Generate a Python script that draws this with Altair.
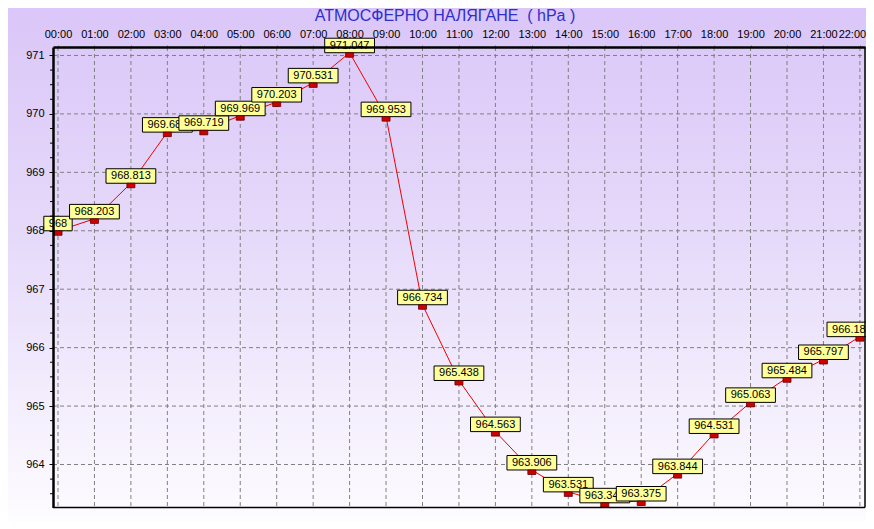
import altair as alt
import pandas as pd

# ---- data ----
hours = list(range(23))
pressure = [968.0, 968.203, 968.813, 969.688, 969.719, 969.969, 970.203, 970.531,
            971.047, 969.953, 966.734, 965.438, 964.563, 963.906, 963.531, 963.344,
            963.375, 963.844, 964.531, 965.063, 965.484, 965.797, 966.188]
y_major = [964, 965, 966, 967, 968, 969, 970, 971]
title_text = "АТМОСФЕРНО НАЛЯГАНЕ \u00a0( hPa )"

labels = [f"{v:.3f}".rstrip("0").rstrip(".") for v in pressure]
y_minor = [963.5 + 0.25 * k for k in range(31) if (963.5 + 0.25 * k) % 1 != 0]

X_DOMAIN = [-0.137, 22.14]
Y_DOMAIN = [963.264, 971.145]
W, H = 812, 460.5
PAD = {"left": 45, "top": 39, "right": 1, "bottom": 13.5}
FONT = "Liberation Sans"

df = pd.DataFrame({"hour": hours, "p": pressure, "label": labels, "i": list(range(len(hours)))})
one = pd.DataFrame({"a": [0]})

X = alt.X("hour:Q",
          scale=alt.Scale(domain=X_DOMAIN, nice=False, zero=False),
          axis=alt.Axis(orient="top", values=hours, title=None, grid=False,
                        labelExpr="(datum.value < 10 ? '0' : '') + datum.value + ':00'",
                        labelAngle=0, labelFont=FONT, labelFontSize=11, labelColor="black",
                        labelOffset={"condition": {"test": "datum.value == 22", "value": -8}, "value": 0},
                        labelPadding=4, tickSize=4, tickColor="#808080", tickDash=[2, 2],
                        domainColor="black", domainWidth=2.5, zindex=1))
Y = alt.Y("p:Q",
          scale=alt.Scale(domain=Y_DOMAIN, nice=False, zero=False),
          axis=alt.Axis(orient="left", values=y_major, format="d", title=None, grid=False,
                        labelFont=FONT, labelFontSize=11, labelColor="black",
                        labelPadding=5, tickSize=4, tickColor="black",
                        domainColor="black", domainWidth=2.5, zindex=1))

bg = alt.Chart(one).mark_rect(
    fill=alt.LinearGradient(gradient="linear", x1=0, y1=0, x2=0, y2=1,
                            stops=[alt.GradientStop(color="#DAC6F8", offset=0),
                                   alt.GradientStop(color="#E6DAFA", offset=0.45),
                                   alt.GradientStop(color="#FDFCFF", offset=1)])
).encode(x=alt.value(-PAD["left"]), x2=alt.value(W + PAD["right"]),
         y=alt.value(-PAD["top"]), y2=alt.value(H + PAD["bottom"]))

vgrid = alt.Chart(pd.DataFrame({"hour": hours})).mark_rule(
    color="#808080", strokeDash=[4, 3], strokeWidth=1
).encode(x=X, y=alt.value(0), y2=alt.value(H))

hgrid = alt.Chart(pd.DataFrame({"p": y_major})).mark_rule(
    color="#808080", strokeDash=[4, 3], strokeWidth=1
).encode(y=Y, x=alt.value(0), x2=alt.value(W))

minor = alt.Chart(pd.DataFrame({"p": y_minor})).mark_rule(color="black", strokeWidth=1).encode(
    y=Y, x=alt.value(-3), x2=alt.value(0))

frame_r = alt.Chart(one).mark_rule(color="black", strokeWidth=1.5).encode(
    x=alt.value(W), y=alt.value(0), y2=alt.value(H))
frame_b = alt.Chart(one).mark_rule(color="black", strokeWidth=1.5).encode(
    y=alt.value(H), x=alt.value(0), x2=alt.value(W))

title = alt.Chart(one).mark_text(
    text=title_text, font=FONT, fontSize=16, color="#2F2FCC", align="center", baseline="alphabetic"
).encode(x=alt.value(392), y=alt.value(-26))

base = alt.Chart(df)
line = base.mark_line(color="#EE0000", strokeWidth=1).encode(x=X, y=Y)

label_layers = []
n = len(labels)
for k, lab in enumerate(labels):
    w = sum(6.12 if c.isdigit() else 3.06 for c in lab) + 10
    shift = -8 if k == n - 1 else 0  # keep the last label near the page edge
    sub = base.transform_filter(alt.datum.i == k)
    label_layers.append(
        sub.mark_rect(fill="#FFFF99", stroke="black", strokeWidth=1,
                      xOffset=-w / 2 + shift, x2Offset=w / 2 + shift, yOffset=-14.5, y2Offset=0)
        .encode(x=X, x2="hour:Q", y=Y, y2="p:Q"))
    label_layers.append(
        sub.mark_text(font=FONT, fontSize=11, color="black", dy=-4, dx=shift,
                      baseline="alphabetic", align="center")
        .encode(x=X, y=Y, text="label:N"))

markers = base.mark_rect(fill="#D00000", stroke="#600000", strokeWidth=0.8,
                         xOffset=-4, x2Offset=4, yOffset=0, y2Offset=4.5).encode(
    x=X, x2="hour:Q", y=Y, y2="p:Q")

chart = alt.layer(
    bg, vgrid, hgrid, line, *label_layers, markers, minor, frame_r, frame_b, title
).properties(
    width=W, height=H,
    padding=PAD,
    autosize=alt.AutoSizeParams(type="none"),
).configure_view(stroke=None)

chart.save("out.html", embed_options={"renderer": "svg", "actions": False})
